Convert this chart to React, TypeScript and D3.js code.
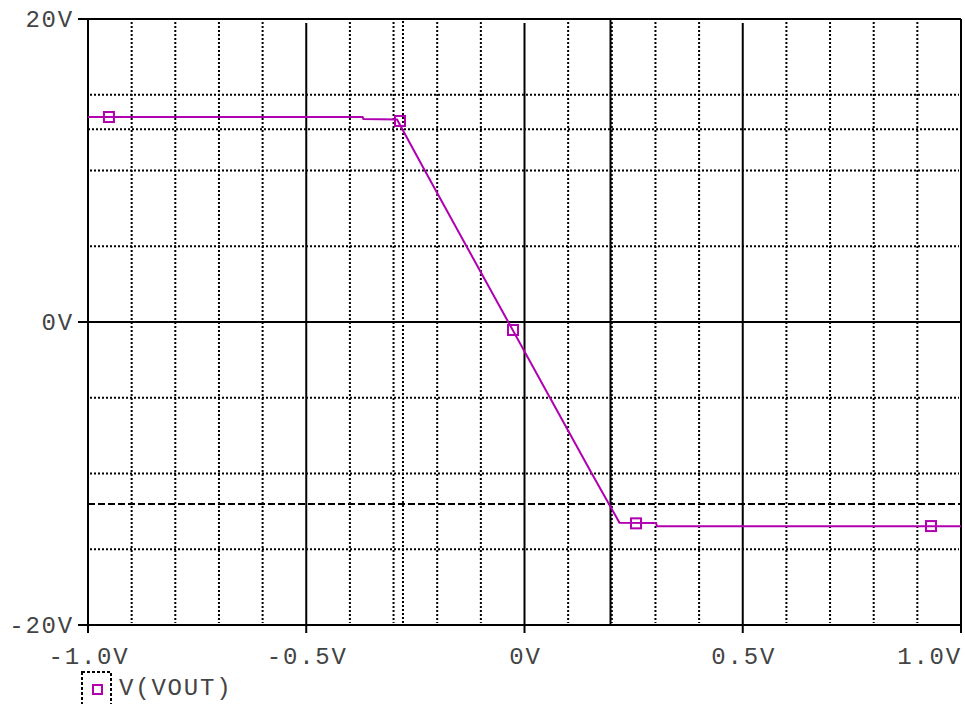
import React from "react";
import * as d3 from "d3";

// ---- data ----
const sweepV = [-1.0, -0.371, -0.369, -0.292, -0.2284, -0.1329, -0.0372, 0.0584, 0.1541, 0.2176, 0.3013, 0.3036, 1.0];
const vout = [13.53, 13.53, 13.4, 13.36, 10.0, 5.0, 0.0, -5.0, -10.0, -13.25, -13.27, -13.49, -13.49];

const markerX = [-0.952, -0.2852, -0.0263, 0.2555, 0.9313];
const markerY = [13.53, 13.27, -0.53, -13.29, -13.47];

const xMajorTicks = [-1.0, -0.5, 0, 0.5, 1.0];
const xTickLabels = ["-1.0V", "-0.5V", "0V", "0.5V", "1.0V"];
const xMinorTicks = [-0.9, -0.8, -0.7, -0.6, -0.4, -0.3, -0.2, -0.1, 0.1, 0.2, 0.3, 0.4, 0.6, 0.7, 0.8, 0.9];
const yMajorTicks = [-20, 0, 20];
const yTickLabels = ["-20V", "0V", "20V"];
const yMinorTicks = [-15, -10, -5, 5, 10, 15];

const cursor1X = -0.2784;
const cursor1Y = 12.72;
const cursor2X = 0.197;
const cursor2Y = -12.01;

const legendLabel = "V(VOUT)";

const W = 965;
const H = 704;
const MAGENTA = "#b000b0";
const FONT = "'Liberation Mono', 'DejaVu Sans Mono', monospace";
const TEXT_FILL = "#444";

export default function App() {
  const x = d3.scaleLinear().domain([-1, 1]).range([88, 961]);
  const y = d3.scaleLinear().domain([-20, 20]).range([625, 19]);
  const [x0, x1] = x.range();
  const [yb, yt] = y.range();

  const pts: [number, number][] = sweepV.map((v, i) => [v, vout[i]]);
  const line = d3
    .line<[number, number]>()
    .x((d) => x(d[0]))
    .y((d) => y(d[1]));

  const dotted = { stroke: "#000", strokeWidth: 2, strokeDasharray: "2,2" } as const;
  const textProps = {
    fontFamily: FONT,
    fontSize: 24,
    letterSpacing: 1.8,
    fill: TEXT_FILL,
  };

  return (
    <svg
      width={W}
      height={H}
      style={{ position: "fixed", left: 0, top: 0, background: "#fff" }}
    >
      <rect x={0} y={0} width={W} height={H} fill="#fff" />
      {/* minor vertical grid */}
      {xMinorTicks.map((t) => (
        <line key={"xv" + t} x1={x(t)} x2={x(t)} y1={yt + 3} y2={yb - 2} {...dotted} />
      ))}
      {/* minor horizontal grid */}
      {yMinorTicks.map((t) => (
        <line key={"yh" + t} x1={x0 + 2} x2={x1 - 2} y1={y(t)} y2={y(t)} {...dotted} />
      ))}
      {/* major vertical grid */}
      {xMajorTicks.slice(1, -1).map((t) => (
        <line key={"xM" + t} x1={x(t)} x2={x(t)} y1={yt + 4} y2={yb} stroke="#000" strokeWidth={2} />
      ))}
      {/* major horizontal grid */}
      <line x1={x0} x2={x1} y1={y(0)} y2={y(0)} stroke="#000" strokeWidth={2} />

      {/* cursors */}
      <line x1={x(cursor1X)} x2={x(cursor1X)} y1={yt + 2} y2={yb} {...dotted} />
      <line x1={x0} x2={x1} y1={y(cursor1Y)} y2={y(cursor1Y)} {...dotted} />
      <line x1={x(cursor2X)} x2={x(cursor2X)} y1={yt} y2={yb} stroke="#000" strokeWidth={2} />
      <line
        x1={x0}
        x2={x1}
        y1={y(cursor2Y)}
        y2={y(cursor2Y)}
        stroke="#000"
        strokeWidth={2}
        strokeDasharray="7,3"
      />

      {/* frame */}
      <line x1={x0} x2={x1} y1={yt} y2={yt} stroke="#000" strokeWidth={2} />
      <line x1={x0} x2={x1} y1={yb} y2={yb} stroke="#000" strokeWidth={2} />
      <line x1={x0} x2={x0} y1={yt} y2={yb} stroke="#000" strokeWidth={2} />
      <line x1={x1} x2={x1} y1={yt} y2={yb} stroke="#000" strokeWidth={2} />

      {/* ticks */}
      {xMajorTicks.map((t) => (
        <line key={"xt" + t} x1={x(t)} x2={x(t)} y1={yb} y2={yb + 8} stroke="#000" strokeWidth={2} />
      ))}
      {yMajorTicks.map((t) => (
        <line key={"yt" + t} x1={x0 - 10} x2={x0} y1={y(t)} y2={y(t)} stroke="#000" strokeWidth={2} />
      ))}

      {/* tick labels */}
      {xMajorTicks.map((t, i) => {
        const last = i === xMajorTicks.length - 1;
        return (
          <text
            key={"xl" + t}
            x={last ? x(t) + 1 : x(t) + 1}
            y={664}
            textAnchor={last ? "end" : "middle"}
            {...textProps}
          >
            {xTickLabels[i]}
          </text>
        );
      })}
      {yMajorTicks.map((t, i) => (
        <text key={"yl" + t} x={74} y={y(t) + 8} textAnchor="end" {...textProps}>
          {yTickLabels[i]}
        </text>
      ))}

      {/* curve */}
      <path d={line(pts) || ""} fill="none" stroke={MAGENTA} strokeWidth={2} />
      {markerX.map((mx, i) => (
        <rect
          key={"m" + i}
          x={x(mx) - 5}
          y={y(markerY[i]) - 5}
          width={10}
          height={10}
          fill="none"
          stroke={MAGENTA}
          strokeWidth={2}
        />
      ))}

      {/* legend */}
      <rect
        x={82}
        y={672}
        width={29}
        height={40}
        fill="none"
        stroke="#000"
        strokeWidth={2}
        strokeDasharray="3,2"
      />
      <rect x={93} y={685} width={9} height={9} fill="none" stroke={MAGENTA} strokeWidth={2} />
      <text x={119} y={695} {...textProps}>
        {legendLabel}
      </text>
    </svg>
  );
}
